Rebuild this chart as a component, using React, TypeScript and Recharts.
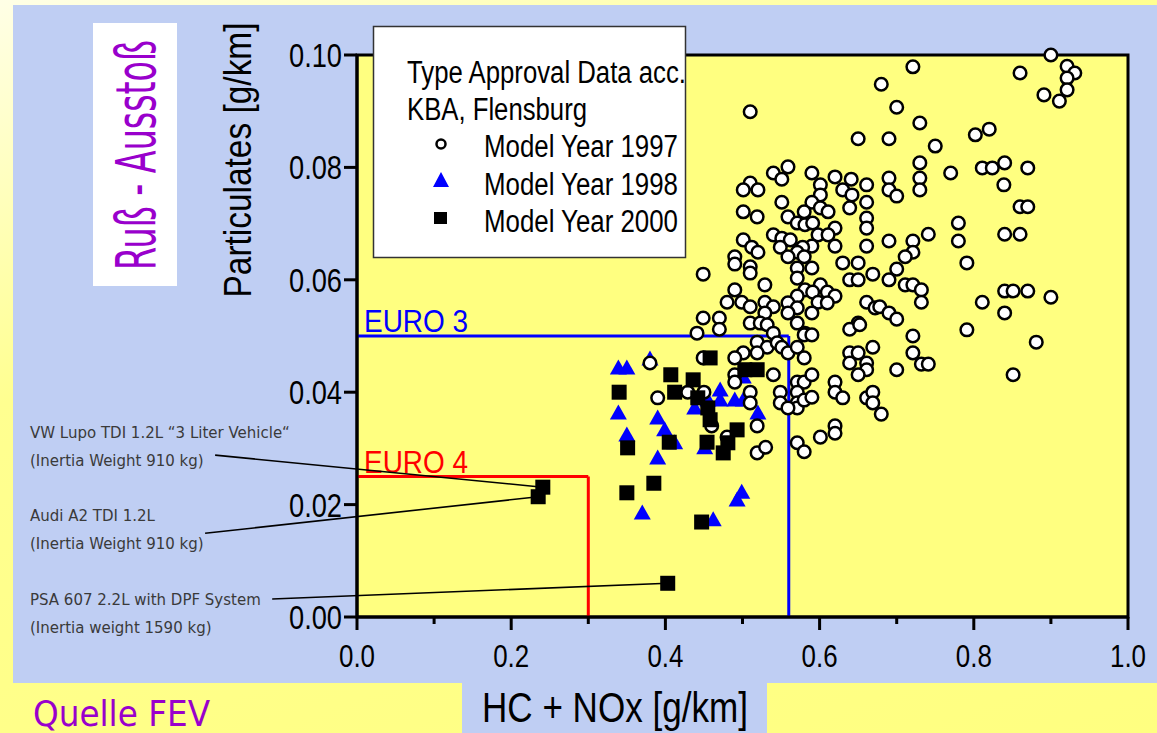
import React from 'react';
import { ScatterChart, Scatter, XAxis, YAxis, CartesianGrid, ReferenceArea, ReferenceLine } from 'recharts';

const xTicks = [0, 0.1, 0.2, 0.3, 0.4, 0.5, 0.6, 0.7, 0.8, 0.9, 1.0];
const yTicks = [0, 0.02, 0.04, 0.06, 0.08, 0.1];

// limit boxes: [HC+NOx, particulates]
const euro3Limit = [0.56, 0.05];
const euro4Limit = [0.3, 0.025];

// [HC+NOx g/km, particulates g/km]
const modelYear1997: [number, number][] = [
  [0.900, 0.1000], [0.921, 0.0980], [0.931, 0.0968], [0.921, 0.0959], [0.860, 0.0968], [0.721, 0.0979],
  [0.680, 0.0948], [0.921, 0.0938], [0.891, 0.0929], [0.911, 0.0918], [0.700, 0.0907], [0.510, 0.0899],
  [0.730, 0.0879], [0.820, 0.0868], [0.802, 0.0858], [0.690, 0.0851], [0.650, 0.0851], [0.750, 0.0838],
  [0.559, 0.0801], [0.540, 0.0790], [0.551, 0.0779], [0.590, 0.0790], [0.620, 0.0783], [0.641, 0.0779],
  [0.661, 0.0769], [0.510, 0.0772], [0.501, 0.0760], [0.520, 0.0760], [0.601, 0.0769], [0.630, 0.0760],
  [0.601, 0.0751], [0.642, 0.0751], [0.730, 0.0808], [0.811, 0.0799], [0.824, 0.0799], [0.840, 0.0808],
  [0.870, 0.0799], [0.770, 0.0790], [0.730, 0.0781], [0.730, 0.0760], [0.690, 0.0781], [0.690, 0.0760],
  [0.700, 0.0749], [0.839, 0.0769],
  [0.551, 0.0738], [0.590, 0.0738], [0.661, 0.0738], [0.639, 0.0728], [0.601, 0.0728], [0.611, 0.0721],
  [0.501, 0.0721], [0.519, 0.0712], [0.559, 0.0712], [0.580, 0.0721], [0.661, 0.0710], [0.571, 0.0701],
  [0.581, 0.0698], [0.591, 0.0701], [0.661, 0.0692], [0.620, 0.0692], [0.540, 0.0680], [0.598, 0.0680],
  [0.611, 0.0680], [0.551, 0.0674], [0.562, 0.0671], [0.501, 0.0671], [0.512, 0.0658], [0.549, 0.0658],
  [0.590, 0.0660], [0.578, 0.0658], [0.620, 0.0660], [0.661, 0.0660], [0.860, 0.0730], [0.870, 0.0730],
  [0.780, 0.0701], [0.780, 0.0669], [0.840, 0.0681], [0.860, 0.0681], [0.741, 0.0681], [0.721, 0.0669],
  [0.690, 0.0669],
  [0.520, 0.0649], [0.571, 0.0649], [0.559, 0.0641], [0.580, 0.0641], [0.490, 0.0641], [0.490, 0.0628],
  [0.630, 0.0630], [0.650, 0.0630], [0.510, 0.0623], [0.571, 0.0621], [0.590, 0.0621], [0.510, 0.0612],
  [0.449, 0.0610], [0.669, 0.0610], [0.571, 0.0603], [0.639, 0.0600], [0.650, 0.0600], [0.529, 0.0591],
  [0.490, 0.0582], [0.581, 0.0582], [0.601, 0.0591], [0.591, 0.0578], [0.610, 0.0578], [0.620, 0.0571],
  [0.571, 0.0571], [0.721, 0.0649], [0.711, 0.0641], [0.700, 0.0619], [0.690, 0.0600], [0.791, 0.0630],
  [0.711, 0.0591], [0.721, 0.0591], [0.732, 0.0582], [0.840, 0.0580], [0.851, 0.0580], [0.870, 0.0580],
  [0.900, 0.0569],
  [0.480, 0.0560], [0.499, 0.0560], [0.510, 0.0552], [0.529, 0.0560], [0.540, 0.0552], [0.559, 0.0559],
  [0.571, 0.0550], [0.598, 0.0560], [0.610, 0.0559], [0.661, 0.0560], [0.672, 0.0550], [0.590, 0.0541],
  [0.559, 0.0541], [0.529, 0.0541], [0.449, 0.0532], [0.470, 0.0532], [0.470, 0.0512], [0.510, 0.0523],
  [0.523, 0.0523], [0.532, 0.0520], [0.571, 0.0523], [0.581, 0.0505], [0.540, 0.0505], [0.441, 0.0505],
  [0.650, 0.0523], [0.639, 0.0512], [0.732, 0.0560], [0.811, 0.0560], [0.840, 0.0541], [0.678, 0.0552],
  [0.690, 0.0541], [0.700, 0.0530], [0.791, 0.0511], [0.721, 0.0500], [0.669, 0.0480], [0.652, 0.0520],
  [0.881, 0.0489], [0.580, 0.0502], [0.590, 0.0502], [0.519, 0.0489], [0.532, 0.0480], [0.545, 0.0488],
  [0.551, 0.0480],
  [0.501, 0.0470], [0.490, 0.0461], [0.519, 0.0470], [0.559, 0.0470], [0.571, 0.0480], [0.580, 0.0461],
  [0.639, 0.0470], [0.650, 0.0470], [0.639, 0.0452], [0.661, 0.0452], [0.661, 0.0440], [0.650, 0.0431],
  [0.449, 0.0461], [0.490, 0.0431], [0.490, 0.0418], [0.540, 0.0431], [0.571, 0.0418], [0.580, 0.0418],
  [0.590, 0.0431], [0.620, 0.0418], [0.620, 0.0400], [0.630, 0.0390], [0.661, 0.0390], [0.669, 0.0400],
  [0.669, 0.0381], [0.680, 0.0361], [0.510, 0.0400], [0.510, 0.0381], [0.549, 0.0400], [0.549, 0.0381],
  [0.571, 0.0400], [0.571, 0.0381], [0.571, 0.0372], [0.580, 0.0386], [0.590, 0.0391], [0.559, 0.0372],
  [0.450, 0.0400], [0.429, 0.0400], [0.390, 0.0390], [0.380, 0.0452], [0.721, 0.0470], [0.732, 0.0450],
  [0.741, 0.0450], [0.700, 0.0440], [0.851, 0.0431],
  [0.519, 0.0340], [0.620, 0.0340], [0.620, 0.0327], [0.601, 0.0320], [0.571, 0.0310], [0.580, 0.0294],
  [0.519, 0.0292], [0.530, 0.0302], [0.460, 0.0340], [0.480, 0.0320],
];

const modelYear1998: [number, number][] = [
  [0.339, 0.0443], [0.350, 0.0443], [0.380, 0.0459], [0.339, 0.0363], [0.350, 0.0324], [0.390, 0.0354],
  [0.399, 0.0333], [0.412, 0.0310], [0.390, 0.0283], [0.370, 0.0185], [0.471, 0.0404], [0.471, 0.0386],
  [0.490, 0.0386], [0.501, 0.0386], [0.438, 0.0372], [0.520, 0.0363], [0.451, 0.0301], [0.499, 0.0222],
  [0.493, 0.0208], [0.462, 0.0173], [0.455, 0.0386], [0.501, 0.0427],
];

const modelYear2000: [number, number][] = [
  [0.407, 0.0431], [0.436, 0.0422], [0.412, 0.0400], [0.340, 0.0400], [0.458, 0.0461], [0.503, 0.0440],
  [0.519, 0.0440], [0.442, 0.0390], [0.455, 0.0372], [0.458, 0.0351], [0.351, 0.0301], [0.405, 0.0311],
  [0.454, 0.0311], [0.493, 0.0333], [0.481, 0.0310], [0.475, 0.0292], [0.385, 0.0238], [0.350, 0.0221],
  [0.447, 0.0169],
];

// the three labelled 2000 cars
const calloutCars: [number, number][] = [[0.241, 0.0231], [0.235, 0.0214], [0.403, 0.0060]];
const calloutNames = ['VW Lupo TDI 1.2L “3 Liter Vehicle“', 'Audi A2 TDI 1.2L', 'PSA 607 2.2L with DPF System'];
const calloutWeights = ['(Inertia Weight 910 kg)', '(Inertia Weight 910 kg)', '(Inertia weight 1590 kg)'];

// where each leader line leaves the text block (axis units, left of the plot)
const calloutStart = [[-0.184, 0.0288], [-0.197, 0.0149], [-0.110, 0.0032]];
const calloutTextTop = [438, 521, 605];

const toPoints = (arr: [number, number][]) => arr.map(([x, y]) => ({ x, y }));

// the slide is squeezed sideways, so Arial-like text gets a fixed length
const SANS = "'Liberation Sans', Arial, sans-serif";
const SOFT = "'DejaVu Sans', Verdana, sans-serif";
const PANEL = '#bfcef3';
const PURPLE = '#9900cc';

const Ring = (p: any) => <circle cx={p.cx} cy={p.cy} r={6.3} fill="#fff" stroke="#000" strokeWidth={2.5} />;
const Tri = (p: any) => (
  <polygon points={`${p.cx},${p.cy - 8.5} ${p.cx - 8.5},${p.cy + 6.5} ${p.cx + 8.5},${p.cy + 6.5}`} fill="#0000ff" />
);
const Sq = (p: any) => <rect x={p.cx - 7.5} y={p.cy - 7.5} width={15} height={15} fill="#000" />;

const XTick = (props: any) => {
  const { x, y, payload } = props;
  const major = Math.round(payload.value * 10) % 2 === 0;
  return (
    <g>
      <line x1={x} y1={y} x2={x} y2={y + (major ? 13 : 7)} stroke="#000" strokeWidth={3} />
      {major && (
        <text x={x} y={y + 50} textAnchor="middle" fontFamily={SANS} fontSize={32} fill="#000"
          textLength={36} lengthAdjust="spacingAndGlyphs">
          {payload.value.toFixed(1)}
        </text>
      )}
    </g>
  );
};

const YTick = (props: any) => {
  const { x, y, payload } = props;
  return (
    <g>
      <line x1={x} y1={y} x2={x - 13} y2={y} stroke="#000" strokeWidth={3} />
      <text x={x - 15} y={y + 12} textAnchor="end" fontFamily={SANS} fontSize={33} fill="#000"
        textLength={53} lengthAdjust="spacingAndGlyphs">
        {payload.value.toFixed(2)}
      </text>
    </g>
  );
};

const euroLabel = (text: string, color: string) => (p: any) => (
  <text x={p.viewBox.x + 7} y={p.viewBox.y - 4} fontFamily={SANS} fontSize={32} fill={color}
    textLength={104} lengthAdjust="spacingAndGlyphs">
    {text}
  </text>
);

export default function App() {
  return (
    <div
      style={{
        position: 'absolute', left: 0, top: 0, width: 1157, height: 733, overflow: 'hidden',
        background: 'linear-gradient(160deg, #ffffe6 0%, #ffff90 35%, #ffff80 100%)',
      }}
    >
      <div style={{ position: 'absolute', left: 13, top: 5, width: 1144, height: 678, background: PANEL }} />
      <div style={{ position: 'absolute', left: 462, top: 683, width: 305, height: 50, background: PANEL }} />
      <div style={{ position: 'absolute', left: 93, top: 23, width: 84, height: 263, background: '#fff' }} />

      <div style={{ position: 'absolute', left: 0, top: 0 }}>
        <ScatterChart width={1157} height={733} margin={{ top: 55, right: 29, bottom: 56, left: 277 }}>
          <CartesianGrid horizontal={false} vertical={false} fill="#ffff80" fillOpacity={1} />
          <XAxis
            type="number" dataKey="x" domain={[0, 1]} ticks={xTicks} interval={0} height={60}
            tickSize={0} tickMargin={0} tickLine={false} tick={<XTick />}
            axisLine={{ stroke: '#000', strokeWidth: 3 }}
          />
          <YAxis
            type="number" dataKey="y" domain={[0, 0.1]} ticks={yTicks} interval={0} width={80}
            tickSize={0} tickMargin={0} tickLine={false} tick={<YTick />}
            axisLine={{ stroke: '#000', strokeWidth: 3 }}
          />
          <ReferenceArea x1={0} x2={1} y1={0} y2={0.1} fill="none" stroke="#000" strokeWidth={3} />

          <ReferenceLine
            segment={[{ x: 0, y: euro3Limit[1] }, { x: euro3Limit[0], y: euro3Limit[1] }]}
            stroke="#0000ff" strokeWidth={3} label={euroLabel('EURO 3', '#0000ff')}
          />
          <ReferenceLine
            segment={[{ x: euro3Limit[0], y: euro3Limit[1] }, { x: euro3Limit[0], y: 0 }]}
            stroke="#0000ff" strokeWidth={3}
          />
          <ReferenceLine
            segment={[{ x: 0, y: euro4Limit[1] }, { x: euro4Limit[0], y: euro4Limit[1] }]}
            stroke="#ff0000" strokeWidth={3} label={euroLabel('EURO 4', '#ff0000')}
          />
          <ReferenceLine
            segment={[{ x: euro4Limit[0], y: euro4Limit[1] }, { x: euro4Limit[0], y: 0 }]}
            stroke="#ff0000" strokeWidth={3}
          />

          {calloutCars.map(([x, y], i) => (
            <ReferenceLine
              key={calloutNames[i]}
              segment={[{ x: calloutStart[i][0], y: calloutStart[i][1] }, { x, y }]}
              stroke="#000" strokeWidth={1.6} ifOverflow="visible"
            />
          ))}

          <Scatter name="Model Year 1998" data={toPoints(modelYear1998)} shape={Tri} isAnimationActive={false} />
          <Scatter name="Model Year 1997" data={toPoints(modelYear1997)} shape={Ring} isAnimationActive={false} />
          <Scatter
            name="Model Year 2000" data={toPoints([...modelYear2000, ...calloutCars])}
            shape={Sq} isAnimationActive={false}
          />
        </ScatterChart>
      </div>

      <svg width={1157} height={733} style={{ position: 'absolute', left: 0, top: 0, pointerEvents: 'none' }}>
        <text
          transform="translate(155,155) rotate(-90)" textAnchor="middle" fontFamily="'DejaVu Sans Condensed', sans-serif"
          fontSize={56} fill={PURPLE} textLength={230} lengthAdjust="spacingAndGlyphs"
        >
          Ruß - Ausstoß
        </text>
        <text transform="translate(251,160) rotate(-90)" textAnchor="middle" fontFamily={SANS} fontSize={39} fill="#000"
          textLength={275} lengthAdjust="spacingAndGlyphs">
          Particulates [g/km]
        </text>

        <rect x={373.5} y={26.5} width={312} height={231} fill="#fff" stroke="#333" strokeWidth={1.5} />
        <g fontFamily={SANS} fontSize={31} fill="#000">
          <text x={407} y={83} textLength={279} lengthAdjust="spacingAndGlyphs">Type Approval Data acc.</text>
          <text x={407} y={120} textLength={180} lengthAdjust="spacingAndGlyphs">KBA, Flensburg</text>
          <text x={484} y={157} textLength={194} lengthAdjust="spacingAndGlyphs">Model Year 1997</text>
          <text x={484} y={195} textLength={194} lengthAdjust="spacingAndGlyphs">Model Year 1998</text>
          <text x={484} y={232} textLength={194} lengthAdjust="spacingAndGlyphs">Model Year 2000</text>
        </g>
        <circle cx={441} cy={144} r={4.5} fill="#fff" stroke="#000" strokeWidth={2.5} />
        <polygon points="441,172 433,187 449,187" fill="#0000ff" />
        <rect x={434} y={212} width={13} height={12} fill="#000" />

        <g fontFamily={SOFT} fontSize={15} fill="#3a3a3a">
          {calloutNames.map((name, i) => (
            <g key={name}>
              <text x={30} y={calloutTextTop[i]}>{name}</text>
              <text x={30} y={calloutTextTop[i] + 28}>{calloutWeights[i]}</text>
            </g>
          ))}
        </g>

        <text x={615} y={722} textAnchor="middle" fontFamily={SANS} fontSize={42} fill="#000"
          textLength={266} lengthAdjust="spacingAndGlyphs">
          HC + NOx [g/km]
        </text>
        <text x={33} y={726} fontFamily={SOFT} fontSize={36} fill={PURPLE}
          textLength={177} lengthAdjust="spacingAndGlyphs">
          Quelle FEV
        </text>
      </svg>
    </div>
  );
}
